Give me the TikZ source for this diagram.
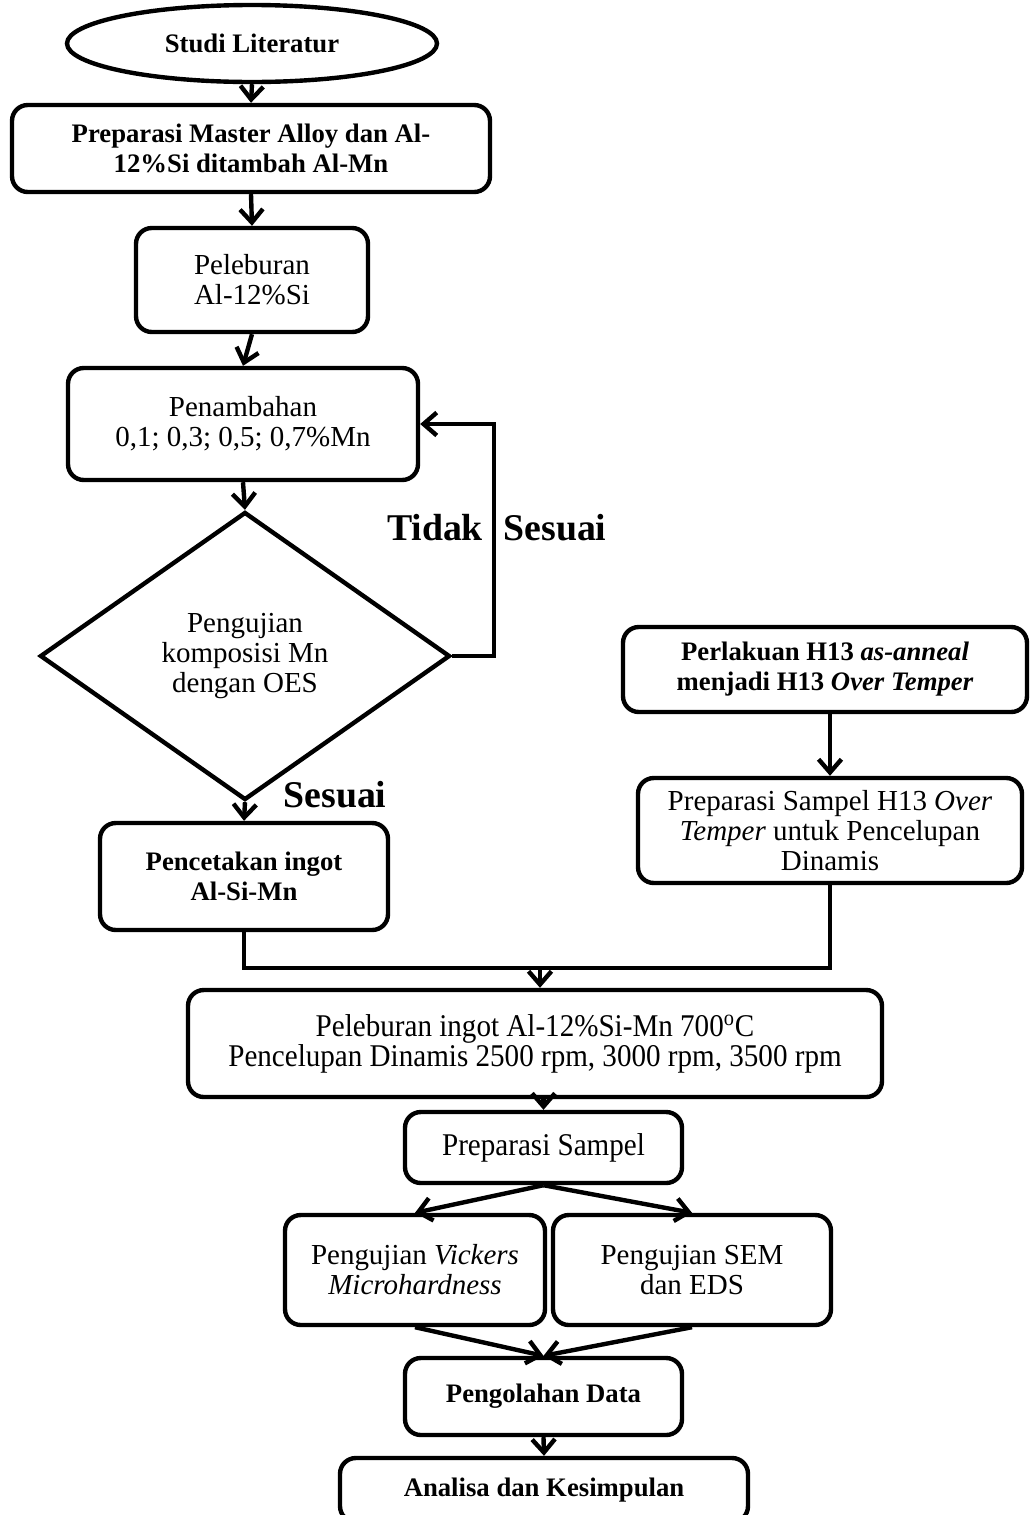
\documentclass[tikz,border=0pt]{standalone}
\usepackage{fontspec}
\setmainfont{Liberation Serif}
\newfontfamily\condfont[FakeStretch=0.92]{Liberation Serif}
\usetikzlibrary{shapes.geometric,arrows.meta}
\newcommand{\pxu}{0.02cm}
\newcommand{\regtxt}{\fontsize{16.5}{17}\selectfont}
\newcommand{\bldtxt}{\fontsize{15.2}{17}\selectfont\bfseries}
\newcommand{\cndtxt}{\condfont\fontsize{18}{17}\selectfont}
\tikzset{
    boxsty/.style={draw,rectangle,rounded corners=9pt,line width=2.5pt,align=center,inner sep=0pt,font=\regtxt},
    ovalsty/.style={draw,ellipse,line width=2.5pt,inner sep=0pt,font=\bldtxt},
    diasty/.style={draw,diamond,line width=2.5pt,align=center,inner sep=0pt,font=\regtxt},
    arrsty/.style={-{Straight Barb[length=7.5pt,width=13pt]},line width=2.5pt},
    linesty/.style={line width=2.5pt},
    lblsty/.style={font=\fontsize{21.5}{24}\selectfont\bfseries},
}

\begin{document}
\begin{tikzpicture}[x=\pxu,y=-\pxu]
  \useasboundingbox (0,0) rectangle (1029,1515);

  % left column
  \node[ovalsty, minimum width=370*\pxu, minimum height=77*\pxu] (lit) at (252,43.5) {Studi Literatur};
  \node[boxsty, font=\bldtxt, minimum width=478*\pxu, minimum height=87*\pxu] (prepma) at (251,148.5) {Preparasi Master Alloy dan Al-\\12\%Si ditambah Al-Mn};
  \node[boxsty, minimum width=232*\pxu, minimum height=104*\pxu] (lebur) at (252,280) {Peleburan\\Al-12\%Si};
  \node[boxsty, minimum width=350*\pxu, minimum height=112*\pxu] (tambah) at (243,424) {Penambahan\\0,1; 0,3; 0,5; 0,7\%Mn};
  \node[diasty, minimum width=410*\pxu, minimum height=288*\pxu] (ujioes) at (245,656) {Pengujian\\komposisi Mn\\dengan OES};
  \node[boxsty, font=\bldtxt, minimum width=288*\pxu, minimum height=107*\pxu] (cetak) at (244,876.5) {Pencetakan ingot\\Al-Si-Mn};

  \node[lblsty] (tidak) at (435,528) {Tidak};
  \node[lblsty] (sesuaiA) at (555,528) {Sesuai};
  \node[lblsty] (sesuaiB) at (335,795) {Sesuai};

  % right column
  \node[boxsty, font=\bldtxt, minimum width=404*\pxu, minimum height=85*\pxu] (lakuH) at (825,669.5) {Perlakuan H13 \textit{as-anneal}\\menjadi H13 \textit{Over Temper}};
  \node[boxsty, minimum width=384*\pxu, minimum height=105*\pxu] (prepH) at (830,830.5) {Preparasi Sampel H13 \textit{Over}\\\textit{Temper} untuk Pencelupan\\Dinamis};

  % bottom part
  \node[boxsty, font=\cndtxt, minimum width=694*\pxu, minimum height=107*\pxu] (leburingot) at (535,1043.5) {Peleburan ingot Al-12\%Si-Mn 700\textsuperscript{o}C\\Pencelupan Dinamis 2500 rpm, 3000 rpm, 3500 rpm};
  \node[boxsty, font=\cndtxt, minimum width=277*\pxu, minimum height=71*\pxu] (prepsmp) at (543.5,1147.5) {Preparasi Sampel};
  \node[boxsty, minimum width=260*\pxu, minimum height=110*\pxu] (vickers) at (415,1270) {Pengujian \textit{Vickers}\\\textit{Microhardness}};
  \node[boxsty, minimum width=278*\pxu, minimum height=110*\pxu] (sem) at (692,1270) {Pengujian SEM\\dan EDS};
  \node[boxsty, font=\bldtxt, minimum width=277*\pxu, minimum height=77*\pxu] (olah) at (543.5,1396.5) {Pengolahan Data};
  \node[boxsty, font=\bldtxt, minimum width=408*\pxu, minimum height=64*\pxu] (analisa) at (544,1490) {Analisa dan Kesimpulan};

  % connectors
  \draw[arrsty] (lit.south) -- (prepma.north);
  \draw[arrsty] (prepma.south) -- (lebur.north);
  \draw[arrsty] (lebur.south) -- (tambah.north);
  \draw[arrsty] (tambah.south) -- (ujioes.north);
  \draw[arrsty] (ujioes.east) -- ++(42,0) |- (tambah.east);
  \draw[arrsty] (ujioes.south) -- (cetak.north);
  \draw[arrsty] (prepH.north |- lakuH.south) -- (prepH.north);

  \coordinate (gab) at (540,968);
  \draw[linesty] (cetak.south) |- (gab) -| (prepH.south);
  \draw[arrsty] (gab) -- (gab |- leburingot.north);
  \draw[arrsty] (prepsmp.north |- leburingot.south) -- (prepsmp.north);
  \draw[arrsty] (prepsmp.south) -- (vickers.north);
  \draw[arrsty] (prepsmp.south) -- (sem.north);
  \draw[arrsty] (vickers.south) -- (olah.north);
  \draw[arrsty] (sem.south) -- (olah.north);
  \draw[arrsty] (olah.south) -- (analisa.north);
\end{tikzpicture}
\end{document}
